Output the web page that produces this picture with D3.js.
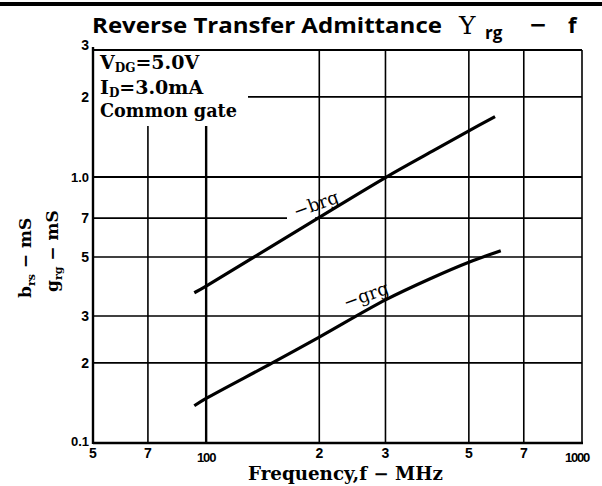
<!DOCTYPE html>
<html>
<head>
<meta charset="utf-8">
<script src="https://cdn.jsdelivr.net/npm/d3@7"></script>
<style>
  html, body { margin: 0; padding: 0; background: #fff; }
  svg { display: block; }
</style>
</head>
<body>
<div id="chart"></div>
<script>
// Axis ticks (frequency in MHz, admittance in mS)
const freqTicks = [50, 70, 100, 200, 300, 500, 700, 1000];
const freqTickLabels = ["5", "7", "100", "2", "3", "5", "7", "1000"];
const admTicks = [0.1, 0.2, 0.3, 0.5, 0.7, 1.0, 2, 3];
const admTickLabels = ["0.1", "2", "3", "5", "7", "1.0", "2", "3"];

// -b_rg curve
const brgFreq = [93, 100, 200, 300, 400, 500, 587];
const brgValue = [0.367, 0.389, 0.705, 0.995, 1.25, 1.49, 1.685];

// -g_rg curve
const grgFreq = [93, 100, 150, 200, 300, 400, 500, 608];
const grgValue = [0.138, 0.147, 0.2, 0.25, 0.345, 0.418, 0.478, 0.528];

const W = 602, H = 486;
const svg = d3.select("#chart").append("svg")
  .attr("width", W).attr("height", H);

const x = d3.scaleLog().domain([50, 1000]).range([93, 582]);
const y = d3.scaleLog().domain([0.1, 3]).range([443, 50]);

const serif = "'DejaVu Serif', serif";
const sans = "'Liberation Sans', Arial, sans-serif";
const titleFont = "'Open Sans', sans-serif";

// top rule
svg.append("rect").attr("x", 0).attr("y", 2).attr("width", W).attr("height", 4).attr("fill", "#000");

// title
const title = svg.append("g").attr("fill", "#000").attr("font-family", titleFont).attr("font-weight", 700);
title.append("text").attr("x", 92).attr("y", 33).attr("font-size", 22)
  .attr("textLength", 350).attr("lengthAdjust", "spacingAndGlyphs")
  .text("Reverse Transfer Admittance");
title.append("text").attr("x", 459).attr("y", 34)
  .attr("font-family", serif).attr("font-weight", "normal").attr("font-size", 25).text("Y");
title.append("text").attr("x", 485).attr("y", 39).attr("font-size", 17).text("rg");
title.append("text").attr("x", 530).attr("y", 33).attr("font-size", 22)
  .attr("textLength", 16).attr("lengthAdjust", "spacingAndGlyphs").text("−");
title.append("text").attr("x", 568).attr("y", 33).attr("font-size", 22).text("f");

// grid
const grid = svg.append("g").attr("stroke", "#000").attr("fill", "none");
const boxBottom = 126;  // vertical lines under the condition box start here
freqTicks.slice(1, -1).forEach(f => {
  const top = (f === 70 || f === 100) ? boxBottom : y(3);
  grid.append("line")
    .attr("x1", x(f)).attr("x2", x(f))
    .attr("y1", top).attr("y2", y(0.1))
    .attr("stroke-width", f === 100 ? 2.4 : 1.6);
});
admTicks.slice(1, -1).forEach(v => {
  const segs = [];
  if (v === 2) segs.push([248, x(1000)]);
  else if (v === 0.7) { segs.push([x(50), 287]); segs.push([315, x(1000)]); }
  else segs.push([x(50), x(1000)]);
  segs.forEach(([a, b]) => grid.append("line")
    .attr("x1", a).attr("x2", b).attr("y1", y(v)).attr("y2", y(v))
    .attr("stroke-width", v === 1.0 ? 2 : 1.6));
});

// frame
grid.append("line").attr("x1", x(50)).attr("x2", x(50)).attr("y1", y(3) - 3).attr("y2", y(0.1) + 1).attr("stroke-width", 2.4);
grid.append("line").attr("x1", x(50)).attr("x2", x(1000) + 1).attr("y1", y(0.1)).attr("y2", y(0.1)).attr("stroke-width", 2.4);
grid.append("line").attr("x1", x(1000)).attr("x2", x(1000)).attr("y1", y(3)).attr("y2", y(0.1)).attr("stroke-width", 1.6);
grid.append("line").attr("x1", x(50)).attr("x2", x(1000)).attr("y1", y(3)).attr("y2", y(3)).attr("stroke-width", 2);

// tick labels
const ax = svg.append("g").attr("font-family", sans).attr("font-weight", "bold").attr("fill", "#000");
freqTicks.forEach((f, i) => {
  const lbl = freqTickLabels[i];
  const big = lbl.length > 1;
  ax.append("text")
    .attr("x", i === freqTicks.length - 1 ? x(f) - 5 : x(f))
    .attr("y", big ? 462 : 458)
    .attr("text-anchor", "middle")
    .attr("font-size", big ? 13 : 14)
    .attr("letter-spacing", big ? -1.2 : 0)
    .text(lbl);
});
admTicks.forEach((v, i) => {
  const lbl = admTickLabels[i];
  ax.append("text")
    .attr("x", 89)
    .attr("y", y(v) + (v === 3 ? 0 : v === 0.1 ? 3 : 5))
    .attr("text-anchor", "end")
    .attr("font-size", lbl.length > 1 ? 13 : 14)
    .text(lbl);
});

// condition box text
const cond = svg.append("g").attr("font-family", serif).attr("font-weight", "bold").attr("fill", "#000");
const t1 = cond.append("text").attr("x", 100).attr("y", 69).attr("font-size", 19);
t1.append("tspan").text("V");
t1.append("tspan").attr("font-size", 12).attr("dy", 3).text("DG");
t1.append("tspan").attr("dy", -3).text("=5.0V");
const t2 = cond.append("text").attr("x", 100).attr("y", 94).attr("font-size", 19);
t2.append("tspan").text("I");
t2.append("tspan").attr("font-size", 12).attr("dy", 3).text("D");
t2.append("tspan").attr("dy", -3).text("=3.0mA");
cond.append("text").attr("x", 100).attr("y", 117).attr("font-size", 19)
  .attr("textLength", 137).attr("lengthAdjust", "spacingAndGlyphs").text("Common gate");

// axis titles
svg.append("text").attr("x", 248).attr("y", 480)
  .attr("font-family", serif).attr("font-weight", "bold").attr("font-size", 18)
  .attr("textLength", 195).attr("lengthAdjust", "spacingAndGlyphs")
  .text("Frequency,f − MHz");

const yt1 = svg.append("text").attr("transform", "translate(31,298) rotate(-90)")
  .attr("font-family", serif).attr("font-weight", "bold").attr("font-size", 17);
yt1.append("tspan").text("b");
yt1.append("tspan").attr("font-size", 11).attr("dy", 4).text("rs");
yt1.append("tspan").attr("dy", -4).text(" − mS");
const yt2 = svg.append("text").attr("transform", "translate(58,292) rotate(-90)")
  .attr("font-family", serif).attr("font-weight", "bold").attr("font-size", 17);
yt2.append("tspan").text("g");
yt2.append("tspan").attr("font-size", 11).attr("dy", 4).text("rg");
yt2.append("tspan").attr("dy", -4).text(" − mS");

// curves
const line = d3.line().x(d => x(d[0])).y(d => y(d[1])).curve(d3.curveCatmullRom.alpha(0.5));
const curves = [
  d3.zip(brgFreq, brgValue),
  d3.zip(grgFreq, grgValue)
];
svg.append("g").selectAll("path").data(curves).join("path")
  .attr("d", line)
  .attr("fill", "none").attr("stroke", "#000").attr("stroke-width", 3.2).attr("stroke-linecap", "butt");

// curve labels
svg.append("text").attr("transform", "translate(318,210) rotate(-20)")
  .attr("text-anchor", "middle").attr("font-family", serif).attr("font-size", 18).text("−brg");
svg.append("text").attr("transform", "translate(368,301) rotate(-20)")
  .attr("text-anchor", "middle").attr("font-family", serif).attr("font-size", 18).text("−grg");
</script>
</body>
</html>
